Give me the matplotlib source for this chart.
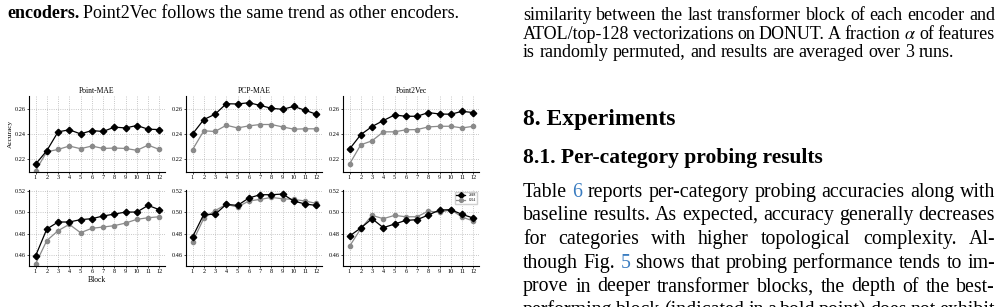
import numpy as np
import matplotlib.pyplot as plt

plt.rcParams['font.family'] = 'Liberation Serif'
plt.rcParams['mathtext.fontset'] = 'stix'

blocks = np.arange(1, 13)
encoders = ["Point-MAE", "PCP-MAE", "Point2Vec"]

# top row (accuracy)
pointmae_top_2048 = [0.2161, 0.2268, 0.2417, 0.2433, 0.2401, 0.2427, 0.2420, 0.2454, 0.2448, 0.2467, 0.2438, 0.2435]
pointmae_top_1024 = [0.2109, 0.2260, 0.2278, 0.2305, 0.2284, 0.2305, 0.2286, 0.2289, 0.2286, 0.2271, 0.2312, 0.2278]
pcpmae_top_2048 = [0.2400, 0.2514, 0.2556, 0.2639, 0.2637, 0.2647, 0.2626, 0.2603, 0.2595, 0.2618, 0.2587, 0.2556]
pcpmae_top_1024 = [0.2276, 0.2425, 0.2420, 0.2469, 0.2448, 0.2464, 0.2475, 0.2475, 0.2456, 0.2438, 0.2441, 0.2441]
point2vec_top_2048 = [0.2281, 0.2395, 0.2459, 0.2506, 0.2550, 0.2540, 0.2540, 0.2569, 0.2558, 0.2556, 0.2579, 0.2569]
point2vec_top_1024 = [0.2163, 0.2315, 0.2346, 0.2417, 0.2417, 0.2433, 0.2435, 0.2456, 0.2461, 0.2461, 0.2448, 0.2461]

# bottom row
pointmae_bot_2048 = [0.4593, 0.4845, 0.4911, 0.4911, 0.4933, 0.4942, 0.4967, 0.4985, 0.5004, 0.5004, 0.5066, 0.5026]
pointmae_bot_1024 = [0.4519, 0.4737, 0.4830, 0.4889, 0.4811, 0.4852, 0.4864, 0.4877, 0.4901, 0.4936, 0.4951, 0.4960]
pcpmae_bot_2048 = [0.4771, 0.4982, 0.4982, 0.5076, 0.5066, 0.5135, 0.5166, 0.5166, 0.5172, 0.5107, 0.5079, 0.5066]
pcpmae_bot_1024 = [0.4724, 0.4945, 0.5017, 0.5076, 0.5051, 0.5107, 0.5122, 0.5141, 0.5128, 0.5122, 0.5107, 0.5085]
point2vec_bot_2048 = [0.4780, 0.4855, 0.4942, 0.4858, 0.4892, 0.4926, 0.4933, 0.4976, 0.5023, 0.5026, 0.4982, 0.4948]
point2vec_bot_1024 = [0.4684, 0.4849, 0.4973, 0.4942, 0.4973, 0.4960, 0.4960, 0.5013, 0.5001, 0.5026, 0.4957, 0.4920]

top_2048 = [pointmae_top_2048, pcpmae_top_2048, point2vec_top_2048]
top_1024 = [pointmae_top_1024, pcpmae_top_1024, point2vec_top_1024]
bot_2048 = [pointmae_bot_2048, pcpmae_bot_2048, point2vec_bot_2048]
bot_1024 = [pointmae_bot_1024, pcpmae_bot_1024, point2vec_bot_1024]

W, H = 1002, 307
fig = plt.figure(figsize=(W / 100, H / 100), dpi=100)

lefts = [29, 186, 343]
rows = [(96, 172, [0.22, 0.24, 0.26], (0.21, 0.27), top_2048, top_1024),
        (190, 266, [0.46, 0.48, 0.50, 0.52], (0.45, 0.521), bot_2048, bot_1024)]

for r, (ytop, ybot, yt, ylim, s2048, s1024) in enumerate(rows):
    for i, lx in enumerate(lefts):
        ax = fig.add_axes([lx / W, 1 - ybot / H, 136 / W, (ybot - ytop) / H])
        ax.plot(blocks, s2048[i], color='black', marker='D', ms=3.3, lw=0.9, label='2048', zorder=3)
        ax.plot(blocks, s1024[i], color='#8a8a8a', marker='o', ms=3.0, lw=0.9, label='1024', zorder=2)
        ax.set_xlim(0.42, 12.5)
        ax.set_ylim(*ylim)
        ax.set_xticks(blocks)
        ax.set_yticks(yt)
        ax.set_yticklabels([f"{v:.2f}" for v in yt])
        ax.grid(True, linestyle=':', color='#b5b5b5', linewidth=0.6)
        for s in ['top', 'right']:
            ax.spines[s].set_visible(False)
        for s in ['left', 'bottom']:
            ax.spines[s].set_linewidth(0.8)
        ax.tick_params(labelsize=4.5, length=1.5, width=0.5, pad=1)
        if r == 0:
            ax.set_title(encoders[i], fontsize=5.5, pad=2)
        if r == 0 and i == 0:
            ax.set_ylabel("Accuracy", fontsize=5.3, labelpad=1)
        if r == 1 and i == 0:
            ax.set_xlabel("Block", fontsize=5.5, labelpad=1)
        if r == 1 and i == 2:
            ax.legend(loc='upper right', fontsize=2.6, handlelength=2.6, borderpad=0.4,
                      labelspacing=0.3, fancybox=False, edgecolor='#d0d0d0', framealpha=1,
                      markerscale=0.9)

# ---- page text around the figure ----
rend = fig.canvas.get_renderer()


def width_of(s, size, weight='normal'):
    t = fig.text(0, 0, s, fontsize=size, weight=weight)
    w = t.get_window_extent(renderer=rend).width
    t.remove()
    return w


def put_line(x0, x1, y, words, size, weight='normal', justify=True):
    widths = [width_of(w, size, weight) for w, c in words]
    space = width_of("x x", size, weight) - width_of("xx", size, weight)
    gap = space
    if justify and len(words) > 1:
        gap = (x1 - x0 - sum(widths)) / (len(words) - 1)
    x = x0
    for (w, c), wd in zip(words, widths):
        fig.text(x / W, 1 - y / H, w, fontsize=size, weight=weight, color=c,
                 ha='left', va='baseline')
        x += wd + gap


def plain(s, blue=()):
    return [(w, '#3a7cc0' if w in blue else 'black') for w in s.split(' ')]


caption = 13
body = 14.3
x0, x1 = 523, 995

# top-left line
bw = width_of("encoders.", caption, 'bold')
fig.text(7 / W, 1 - 18.3 / H, "encoders.", fontsize=caption, weight='bold', va='baseline')
fig.text((7 + bw + 4) / W, 1 - 18.3 / H, "Point2Vec follows the same trend as other encoders.",
         fontsize=caption, va='baseline')

put_line(x0, x1, 19.5, plain("similarity between the last transformer block of each encoder and"), caption)
put_line(x0, x1, 39, plain(r"ATOL/top-128 vectorizations on DONUT. A fraction $\alpha$ of features"), caption)
put_line(x0, x1, 57, plain("is randomly permuted, and results are averaged over 3 runs."), caption, justify=False)

fig.text(x0 / W, 1 - 125 / H, "8. Experiments", fontsize=17, weight='bold', va='baseline')
fig.text(x0 / W, 1 - 162.5 / H, "8.1. Per-category probing results", fontsize=15.5, weight='bold', va='baseline')

para = ["Table 6 reports per-category probing accuracies along with",
        "baseline results. As expected, accuracy generally decreases",
        "for categories with higher topological complexity. Al-",
        "though Fig. 5 shows that probing performance tends to im-",
        "prove in deeper transformer blocks, the depth of the best-",
        "performing block (indicated in a bold point) does not exhibit"]
for k, line in enumerate(para):
    put_line(x0, x1, 196.7 + 23.7 * k, plain(line, blue=('6', '5')), body)

fig.savefig("out.png", dpi=100)
